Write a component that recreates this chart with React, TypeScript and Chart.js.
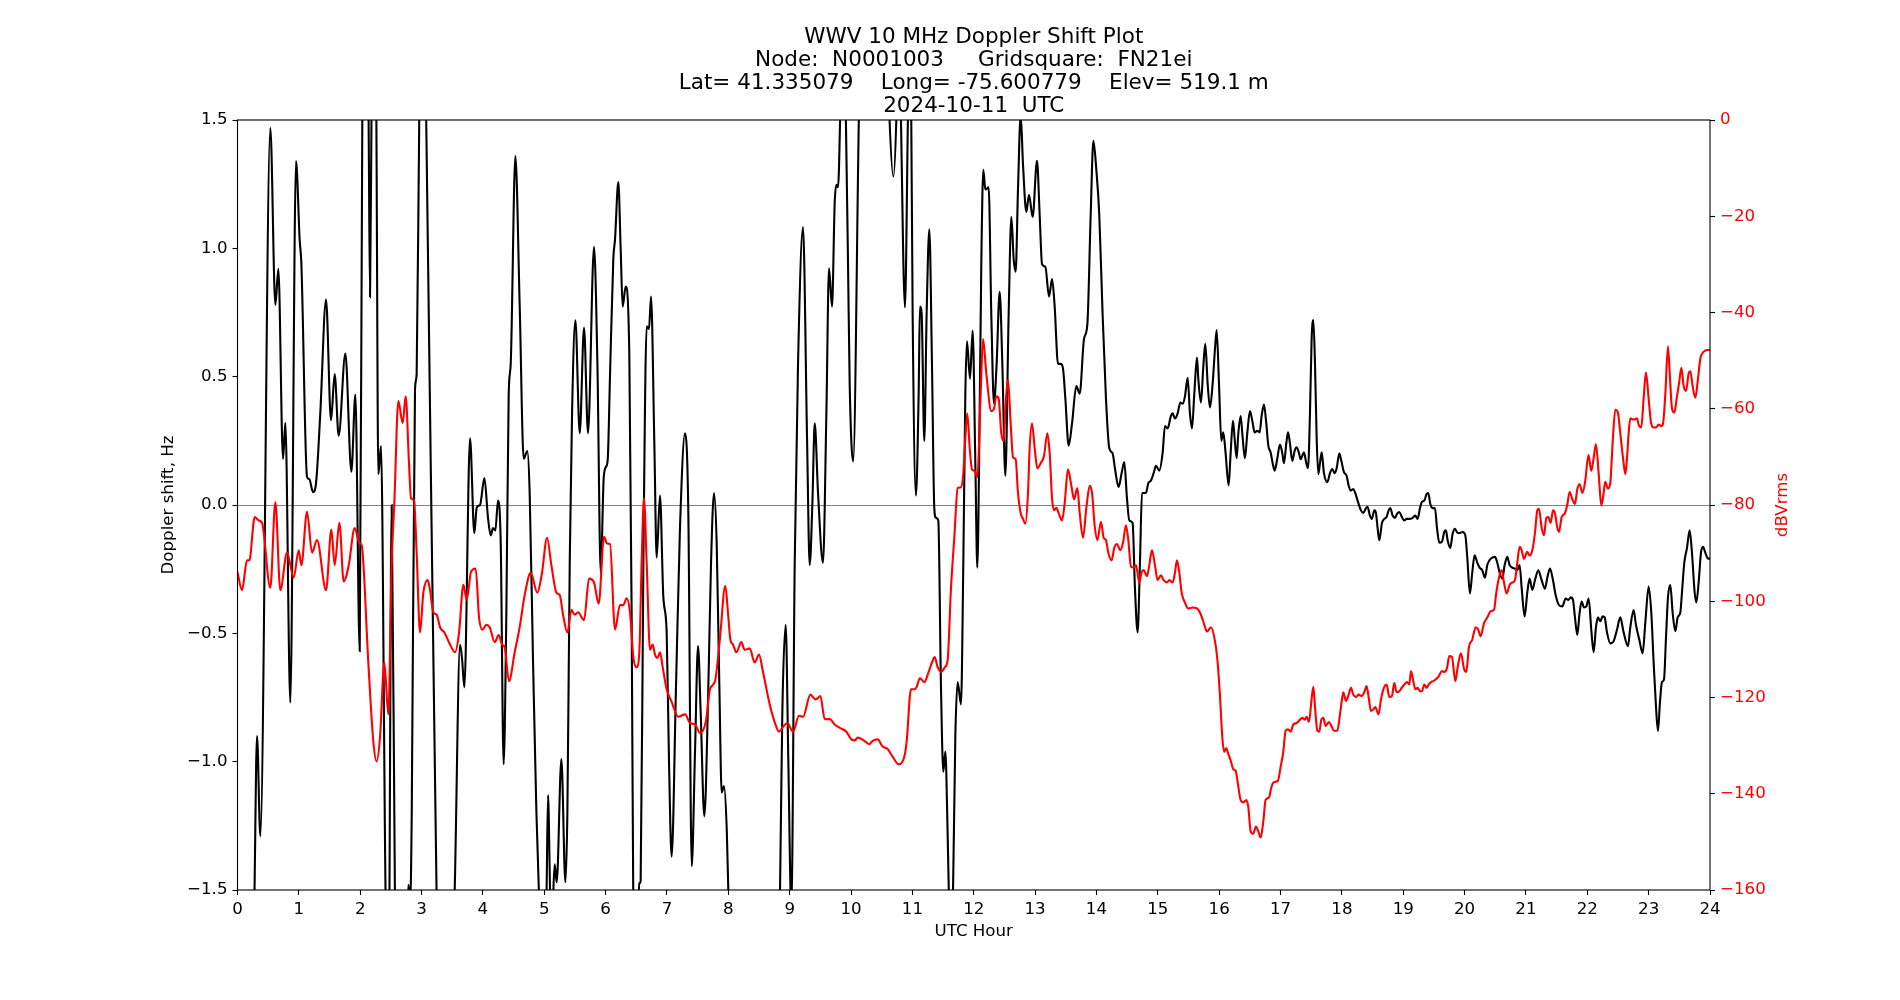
import React, { useEffect, useRef } from "react";
import { Chart, registerables } from "chart.js";

Chart.register(...registerables);

const titleLines = [
  "WWV 10 MHz Doppler Shift Plot",
  "Node:  N0001003     Gridsquare:  FN21ei",
  "Lat= 41.335079    Long= -75.600779    Elev= 519.1 m",
  "2024-10-11  UTC",
];
const xAxisTitle = "UTC Hour";
const leftAxisTitle = "Doppler shift, Hz";
const rightAxisTitle = "dBVrms";

const hourTicks = [0, 1, 2, 3, 4, 5, 6, 7, 8, 9, 10, 11, 12, 13, 14, 15, 16, 17, 18, 19, 20, 21, 22, 23, 24];
const shiftTicks = [-1.5, -1.0, -0.5, 0.0, 0.5, 1.0, 1.5];
const levelTicks = [-160, -140, -120, -100, -80, -60, -40, -20, 0];

// [UTC hour, Doppler shift in Hz] (values beyond +/-1.5 run off the plot)
const dopplerShift: [number, number][] = [
  [0.0, -2.2], [0.15, -2.2], [0.27, -1.6], [0.318, -0.9], [0.372, -1.29], [0.535, 1.47], [0.617, 0.78], [0.666, 0.92],
  [0.742, 0.18], [0.78, 0.32], [0.861, -0.77], [0.954, 1.34], [1.014, 1.03], [1.041, 0.94], [1.133, 0.11], [1.171, 0.1],
  [1.231, 0.05], [1.28, 0.085], [1.35, 0.36], [1.443, 0.8], [1.524, 0.33], [1.584, 0.51], [1.649, 0.27], [1.758, 0.59],
  [1.856, 0.13], [1.921, 0.43], [1.992, -0.57], [2.035, 1.55], [2.085, 2.2], [2.135, 1.55], [2.16, 0.81], [2.185, 1.55],
  [2.225, 2.2], [2.262, 1.55], [2.295, 0.12], [2.339, 0.23], [2.415, -1.55], [2.46, -2.0], [2.513, 0.0], [2.567, -1.55],
  [2.65, -2.2], [2.76, -1.7], [2.785, -1.48], [2.815, -1.55], [2.84, -1.2], [2.893, 0.45], [2.92, 0.51], [2.964, 1.55],
  [3.02, 2.2], [3.073, 1.55], [3.247, -1.55], [3.3, -2.0], [3.45, -2.0], [3.535, -1.55], [3.627, -0.545], [3.66, -0.6],
  [3.698, -0.71], [3.79, 0.26], [3.86, -0.11], [3.899, -0.01], [3.953, 0.0], [4.024, 0.105], [4.083, -0.05], [4.127, -0.118],
  [4.165, -0.09], [4.203, -0.099], [4.246, 0.017], [4.29, -0.147], [4.338, -1.01], [4.382, -0.42], [4.42, 0.43], [4.453, 0.55],
  [4.529, 1.36], [4.599, 0.78], [4.665, 0.18], [4.724, 0.21], [4.762, 0.047], [4.817, -0.61], [4.871, -1.19], [4.925, -1.6],
  [4.99, -1.9], [5.035, -1.55], [5.061, -1.13], [5.1, -1.55], [5.127, -1.6], [5.17, -1.4], [5.203, -1.47], [5.279, -0.99],
  [5.344, -1.47], [5.377, -1.19], [5.415, -0.225], [5.453, 0.36], [5.507, 0.72], [5.578, 0.28], [5.648, 0.69], [5.713, 0.28],
  [5.811, 1.006], [5.866, 0.55], [5.92, -0.264], [5.97, 0.11], [6.01, 0.15], [6.035, 0.18], [6.071, 0.5], [6.125, 0.957],
  [6.153, 1.035], [6.207, 1.258], [6.245, 1.0], [6.278, 0.773], [6.326, 0.851], [6.386, 0.589], [6.424, -0.419], [6.451, -1.55],
  [6.5, -1.9], [6.549, -1.475], [6.571, -1.465], [6.615, -0.225], [6.669, 0.696], [6.707, 0.686], [6.74, 0.812], [6.794, 0.24],
  [6.832, -0.205], [6.886, 0.037], [6.941, -0.36], [6.995, -0.496], [7.033, -1.0], [7.076, -1.37], [7.147, -0.709], [7.212, -0.089],
  [7.294, 0.279], [7.348, -0.031], [7.403, -1.407], [7.457, -0.961], [7.506, -0.55], [7.549, -0.806], [7.609, -1.213], [7.674, -0.709],
  [7.718, -0.225], [7.767, 0.047], [7.81, -0.147], [7.854, -0.709], [7.892, -1.12], [7.93, -1.095], [7.975, -1.27], [8.01, -1.6],
  [8.1, -2.2], [8.45, -2.2], [8.8, -2.0], [8.84, -1.55], [8.88, -0.81], [8.935, -0.467], [8.978, -1.0], [9.027, -1.58],
  [9.082, -0.225], [9.136, 0.55], [9.217, 1.083], [9.283, 0.26], [9.326, -0.234], [9.37, 0.008], [9.408, 0.318], [9.462, 0.047],
  [9.543, -0.225], [9.598, 0.357], [9.641, 0.922], [9.69, 0.773], [9.734, 1.18], [9.761, 1.248], [9.788, 1.238], [9.826, 1.55],
  [9.87, 2.1], [9.913, 1.55], [9.951, 0.938], [9.978, 0.47], [10.035, 0.17], [10.134, 1.6], [10.2, 2.2], [10.55, 2.2],
  [10.62, 1.55], [10.69, 1.28], [10.743, 1.55], [10.775, 2.0], [10.81, 1.55], [10.879, 0.77], [10.93, 1.55], [10.955, 1.8],
  [10.98, 1.55], [11.004, 0.744], [11.058, 0.037], [11.102, 0.434], [11.123, 0.773], [11.151, 0.744], [11.194, 0.25], [11.232, 0.744],
  [11.276, 1.074], [11.319, 0.55], [11.357, -0.012], [11.384, -0.05], [11.422, -0.06], [11.466, -0.709], [11.504, -1.039], [11.537, -0.961],
  [11.575, -1.287], [11.602, -1.6], [11.629, -1.75], [11.656, -1.6], [11.7, -0.9], [11.738, -0.69], [11.792, -0.777], [11.83, -0.225],
  [11.863, 0.434], [11.89, 0.638], [11.939, 0.492], [11.982, 0.68], [12.026, 0.163], [12.058, -0.244], [12.096, 0.357], [12.123, 0.938],
  [12.156, 1.306], [12.189, 1.229], [12.243, 1.238], [12.286, 0.744], [12.33, 0.395], [12.373, 0.55], [12.422, 0.831], [12.466, 0.55],
  [12.515, 0.114], [12.569, 0.744], [12.613, 1.122], [12.651, 0.957], [12.683, 0.909], [12.721, 1.229], [12.765, 1.52], [12.803, 1.326],
  [12.857, 1.141], [12.9, 1.209], [12.96, 1.122], [13.031, 1.341], [13.074, 1.132], [13.113, 0.938], [13.167, 0.928], [13.227, 0.812],
  [13.276, 0.88], [13.319, 0.773], [13.373, 0.55], [13.417, 0.55], [13.455, 0.531], [13.493, 0.415], [13.547, 0.231], [13.602, 0.318],
  [13.672, 0.463], [13.727, 0.434], [13.797, 0.647], [13.852, 0.705], [13.906, 1.132], [13.95, 1.419], [13.998, 1.306], [14.046, 1.13],
  [14.1, 0.744], [14.155, 0.415], [14.209, 0.221], [14.263, 0.202], [14.301, 0.143], [14.361, 0.07], [14.41, 0.124], [14.453, 0.167],
  [14.497, 0.027], [14.535, -0.06], [14.589, -0.07], [14.627, -0.322], [14.671, -0.496], [14.709, -0.225], [14.742, 0.047], [14.78, 0.047],
  [14.807, 0.047], [14.845, 0.085], [14.888, 0.095], [14.932, 0.124], [14.97, 0.153], [15.024, 0.134], [15.078, 0.202], [15.117, 0.308],
  [15.16, 0.298], [15.214, 0.347], [15.242, 0.357], [15.28, 0.337], [15.323, 0.357], [15.367, 0.399], [15.405, 0.395], [15.443, 0.424],
  [15.486, 0.496], [15.524, 0.357], [15.557, 0.298], [15.595, 0.434], [15.638, 0.574], [15.66, 0.492], [15.703, 0.399], [15.742, 0.541],
  [15.774, 0.628], [15.812, 0.473], [15.85, 0.38], [15.894, 0.473], [15.932, 0.609], [15.959, 0.682], [15.997, 0.473], [16.035, 0.25],
  [16.067, 0.283], [16.105, 0.202], [16.154, 0.076], [16.187, 0.202], [16.225, 0.328], [16.252, 0.26], [16.285, 0.182], [16.312, 0.279],
  [16.35, 0.347], [16.377, 0.279], [16.42, 0.182], [16.458, 0.279], [16.502, 0.366], [16.54, 0.328], [16.578, 0.283], [16.622, 0.289],
  [16.66, 0.283], [16.692, 0.347], [16.73, 0.391], [16.768, 0.318], [16.801, 0.231], [16.839, 0.205], [16.872, 0.163], [16.904, 0.134],
  [16.948, 0.182], [16.991, 0.236], [17.029, 0.202], [17.056, 0.163], [17.094, 0.24], [17.122, 0.283], [17.154, 0.24], [17.192, 0.172],
  [17.23, 0.211], [17.263, 0.225], [17.301, 0.202], [17.328, 0.178], [17.355, 0.192], [17.382, 0.205], [17.42, 0.163], [17.448, 0.143],
  [17.48, 0.357], [17.507, 0.647], [17.535, 0.721], [17.562, 0.55], [17.589, 0.26], [17.616, 0.12], [17.643, 0.163], [17.671, 0.205],
  [17.708, 0.124], [17.763, 0.089], [17.806, 0.124], [17.844, 0.14], [17.882, 0.124], [17.915, 0.143], [17.958, 0.2], [17.991, 0.172],
  [18.034, 0.128], [18.077, 0.114], [18.11, 0.076], [18.148, 0.056], [18.186, 0.062], [18.218, 0.047], [18.256, 0.017], [18.311, -0.021],
  [18.349, -0.031], [18.392, -0.012], [18.419, -0.008], [18.457, -0.041], [18.49, -0.054], [18.528, -0.021], [18.555, -0.031], [18.582, -0.089],
  [18.61, -0.138], [18.653, -0.07], [18.691, -0.054], [18.729, -0.047], [18.762, -0.021], [18.789, -0.012], [18.827, -0.041], [18.865, -0.05],
  [18.898, -0.035], [18.936, -0.027], [18.979, -0.047], [19.017, -0.06], [19.055, -0.054], [19.099, -0.054], [19.153, -0.05], [19.196, -0.041],
  [19.235, -0.054], [19.273, -0.012], [19.305, 0.012], [19.343, 0.017], [19.381, 0.043], [19.408, 0.047], [19.441, 0.004], [19.479, -0.012],
  [19.517, -0.012], [19.55, -0.089], [19.588, -0.147], [19.631, -0.143], [19.669, -0.105], [19.696, -0.099], [19.724, -0.138], [19.767, -0.167],
  [19.805, -0.112], [19.843, -0.093], [19.887, -0.109], [19.925, -0.109], [19.968, -0.105], [20.012, -0.118], [20.044, -0.205], [20.087, -0.345],
  [20.125, -0.264], [20.163, -0.196], [20.207, -0.225], [20.245, -0.244], [20.288, -0.254], [20.332, -0.283], [20.37, -0.234], [20.408, -0.215],
  [20.451, -0.205], [20.495, -0.202], [20.533, -0.225], [20.571, -0.264], [20.615, -0.287], [20.653, -0.234], [20.696, -0.202], [20.734, -0.234],
  [20.778, -0.244], [20.821, -0.248], [20.859, -0.254], [20.897, -0.234], [20.93, -0.322], [20.979, -0.434], [21.022, -0.341], [21.06, -0.287],
  [21.104, -0.331], [21.147, -0.293], [21.201, -0.254], [21.256, -0.293], [21.31, -0.326], [21.348, -0.283], [21.392, -0.248], [21.441, -0.293],
  [21.484, -0.351], [21.538, -0.39], [21.593, -0.395], [21.647, -0.364], [21.691, -0.37], [21.729, -0.36], [21.767, -0.37], [21.799, -0.438],
  [21.837, -0.506], [21.875, -0.419], [21.908, -0.376], [21.946, -0.399], [21.984, -0.395], [22.022, -0.364], [22.065, -0.486], [22.103, -0.574],
  [22.141, -0.477], [22.174, -0.438], [22.212, -0.453], [22.25, -0.434], [22.283, -0.438], [22.321, -0.496], [22.375, -0.539], [22.429, -0.531],
  [22.484, -0.486], [22.538, -0.438], [22.592, -0.496], [22.663, -0.55], [22.701, -0.477], [22.755, -0.409], [22.793, -0.467], [22.848, -0.525],
  [22.902, -0.578], [22.946, -0.457], [23.0, -0.318], [23.043, -0.419], [23.081, -0.612], [23.12, -0.787], [23.152, -0.88], [23.185, -0.767],
  [23.217, -0.69], [23.25, -0.68], [23.283, -0.516], [23.315, -0.36], [23.353, -0.312], [23.391, -0.419], [23.435, -0.492], [23.473, -0.438],
  [23.516, -0.419], [23.543, -0.341], [23.581, -0.225], [23.625, -0.167], [23.668, -0.099], [23.706, -0.186], [23.75, -0.341], [23.777, -0.38],
  [23.815, -0.302], [23.853, -0.186], [23.886, -0.163], [23.924, -0.186], [23.967, -0.209], [24.0, -0.209],
];

// [UTC hour, received level in dBVrms]
const signalLevel: [number, number][] = [
  [0.0, -94], [0.073, -97.7], [0.155, -91.5], [0.193, -91.5], [0.28, -82.5], [0.345, -83.2], [0.4, -83.7], [0.535, -97.2],
  [0.617, -79.4], [0.698, -97.7], [0.807, -89.9], [0.916, -95.1], [0.997, -89.4], [1.041, -92.5], [1.133, -81.4], [1.215, -89.9],
  [1.296, -87.3], [1.443, -97.7], [1.53, -85.1], [1.584, -92.5], [1.66, -83.7], [1.731, -95.9], [1.813, -92.5], [1.91, -84.8],
  [1.986, -87.9], [2.024, -88.4], [2.132, -112.7], [2.214, -129.2], [2.268, -133.3], [2.323, -128.2], [2.393, -112.7], [2.458, -123.5],
  [2.513, -92.0], [2.556, -79.6], [2.622, -58.4], [2.692, -63.0], [2.741, -57.4], [2.795, -71.3], [2.828, -78.6], [2.877, -79.0],
  [2.92, -89.9], [2.975, -106.5], [3.029, -98.2], [3.1, -95.6], [3.138, -97.7], [3.192, -102.3], [3.247, -102.8], [3.301, -105.4],
  [3.372, -106.5], [3.464, -109.0], [3.545, -110.6], [3.611, -106.5], [3.681, -96.6], [3.736, -99.7], [3.806, -93.9], [3.882, -93.2],
  [3.937, -103.4], [3.991, -105.9], [4.056, -104.9], [4.11, -105.4], [4.192, -108.5], [4.257, -107.0], [4.311, -109.0], [4.355, -109.6],
  [4.425, -116.6], [4.518, -110.6], [4.599, -105.4], [4.681, -98.7], [4.779, -94.1], [4.887, -98.2], [4.963, -94.1], [5.045, -86.8],
  [5.116, -92.5], [5.197, -98.2], [5.252, -98.7], [5.306, -102.8], [5.377, -106.5], [5.442, -101.8], [5.496, -102.8], [5.55, -102.3],
  [5.648, -103.9], [5.73, -95.3], [5.811, -96.1], [5.887, -100.5], [5.974, -86.6], [6.023, -88.0], [6.071, -88.1], [6.153, -105.9],
  [6.234, -100.8], [6.288, -100.8], [6.343, -99.4], [6.397, -102.3], [6.451, -111.6], [6.506, -113.7], [6.549, -110.6], [6.587, -92.0],
  [6.625, -78.6], [6.669, -92.0], [6.723, -110.1], [6.767, -109.0], [6.805, -111.1], [6.843, -111.8], [6.886, -110.6], [6.93, -113.7],
  [6.995, -118.3], [7.076, -120.9], [7.185, -124.0], [7.294, -123.5], [7.375, -125.3], [7.457, -125.6], [7.538, -127.4], [7.636, -124.8],
  [7.701, -118.3], [7.783, -116.6], [7.865, -107.5], [7.95, -96.8], [7.998, -103.0], [8.033, -108.0], [8.076, -109.0], [8.13, -110.6],
  [8.212, -108.5], [8.266, -110.1], [8.348, -109.8], [8.429, -112.7], [8.5, -111.1], [8.565, -114.7], [8.674, -121.4], [8.755, -125.1],
  [8.826, -127.1], [8.891, -126.1], [8.962, -125.3], [9.054, -127.1], [9.152, -123.8], [9.217, -124.0], [9.337, -119.4], [9.424, -120.4],
  [9.5, -119.7], [9.571, -124.5], [9.652, -124.5], [9.734, -125.6], [9.815, -126.3], [9.924, -127.1], [10.005, -128.7], [10.065, -128.9],
  [10.107, -128.3], [10.216, -129.0], [10.297, -129.7], [10.352, -129.0], [10.433, -128.7], [10.515, -130.2], [10.596, -130.7], [10.678, -132.3],
  [10.776, -133.9], [10.868, -132.3], [10.906, -129.2], [10.977, -118.3], [11.031, -118.3], [11.069, -117.8], [11.123, -116.0], [11.194, -116.8],
  [11.265, -114.7], [11.319, -112.7], [11.363, -111.6], [11.412, -113.7], [11.466, -114.7], [11.531, -113.7], [11.575, -112.2], [11.629, -97.2],
  [11.683, -86.8], [11.738, -76.5], [11.792, -76.3], [11.83, -73.4], [11.863, -66.1], [11.895, -61.0], [11.936, -68.5], [11.971, -72.6],
  [12.015, -72.9], [12.058, -74.2], [12.113, -56.8], [12.151, -45.5], [12.205, -52.7], [12.286, -60.5], [12.33, -60.0], [12.368, -57.4],
  [12.406, -57.9], [12.449, -65.1], [12.487, -66.7], [12.52, -58.9], [12.558, -54.0], [12.602, -63.1], [12.64, -70.1], [12.683, -70.5],
  [12.721, -77.5], [12.765, -81.7], [12.803, -82.9], [12.841, -83.9], [12.884, -77.5], [12.911, -68.2], [12.949, -63.0], [12.993, -68.2],
  [13.036, -72.4], [13.091, -71.3], [13.145, -69.8], [13.199, -65.1], [13.238, -69.3], [13.276, -78.6], [13.308, -81.1], [13.346, -80.6],
  [13.384, -81.7], [13.439, -83.2], [13.482, -79.6], [13.536, -72.6], [13.591, -76.0], [13.634, -78.8], [13.689, -76.5], [13.727, -81.7],
  [13.781, -86.8], [13.835, -80.6], [13.89, -76.0], [13.928, -77.5], [13.971, -84.3], [14.015, -87.3], [14.073, -83.5], [14.117, -86.8],
  [14.155, -87.3], [14.193, -89.9], [14.247, -91.5], [14.29, -88.9], [14.334, -88.1], [14.388, -89.4], [14.432, -87.9], [14.481, -84.2],
  [14.519, -87.3], [14.562, -92.8], [14.606, -93.0], [14.644, -92.5], [14.698, -96.1], [14.736, -94.0], [14.769, -93.5], [14.823, -94.8],
  [14.861, -92.5], [14.905, -89.4], [14.953, -92.5], [14.997, -95.6], [15.051, -94.6], [15.095, -95.6], [15.149, -96.1], [15.187, -95.6],
  [15.242, -96.1], [15.28, -94.0], [15.312, -91.5], [15.35, -94.0], [15.388, -98.2], [15.443, -100.3], [15.497, -101.5], [15.568, -101.3],
  [15.638, -101.5], [15.703, -102.8], [15.758, -104.9], [15.801, -106.3], [15.867, -105.4], [15.921, -107.5], [15.97, -112.0], [16.01, -119.0],
  [16.05, -128.0], [16.08, -131.3], [16.116, -130.5], [16.143, -131.5], [16.187, -133.1], [16.23, -134.9], [16.268, -135.2], [16.306, -138.0],
  [16.35, -141.3], [16.393, -141.8], [16.442, -141.3], [16.475, -142.8], [16.513, -147.8], [16.556, -148.3], [16.6, -146.8], [16.638, -147.8],
  [16.676, -149.1], [16.719, -145.8], [16.757, -141.3], [16.812, -140.8], [16.85, -138.7], [16.882, -137.7], [16.92, -137.5], [16.958, -137.3],
  [17.002, -134.4], [17.045, -131.3], [17.083, -126.9], [17.122, -126.6], [17.165, -127.1], [17.208, -125.6], [17.263, -125.3], [17.317, -124.6],
  [17.355, -124.2], [17.393, -124.6], [17.426, -124.0], [17.464, -125.1], [17.502, -120.9], [17.535, -117.8], [17.562, -122.0], [17.6, -126.9],
  [17.632, -127.1], [17.665, -124.6], [17.698, -124.2], [17.736, -125.9], [17.79, -125.1], [17.828, -125.9], [17.871, -126.9], [17.926, -126.9],
  [17.969, -123.5], [18.0, -120.5], [18.023, -118.9], [18.066, -120.7], [18.11, -119.4], [18.148, -118.0], [18.186, -119.4], [18.229, -119.9],
  [18.273, -119.4], [18.327, -119.7], [18.365, -118.9], [18.403, -117.6], [18.436, -119.9], [18.474, -122.8], [18.512, -122.5], [18.544, -122.0],
  [18.599, -123.5], [18.637, -120.4], [18.691, -117.8], [18.729, -117.3], [18.773, -119.9], [18.816, -119.7], [18.854, -117.0], [18.892, -118.9],
  [18.936, -118.7], [18.974, -118.0], [19.017, -117.3], [19.061, -116.8], [19.099, -117.3], [19.126, -114.5], [19.164, -116.6], [19.196, -118.3],
  [19.235, -118.0], [19.273, -118.7], [19.305, -118.7], [19.343, -117.3], [19.381, -118.0], [19.414, -117.3], [19.452, -116.8], [19.49, -116.6],
  [19.523, -116.3], [19.577, -115.6], [19.631, -114.5], [19.669, -114.7], [19.713, -113.9], [19.751, -111.4], [19.794, -111.6], [19.849, -116.6],
  [19.887, -113.7], [19.941, -110.8], [19.99, -114.0], [20.028, -114.7], [20.071, -109.5], [20.125, -108.0], [20.18, -105.4], [20.223, -105.9],
  [20.261, -107.3], [20.316, -104.6], [20.37, -103.4], [20.424, -102.1], [20.479, -101.8], [20.517, -98.2], [20.56, -95.1], [20.604, -93.5],
  [20.642, -96.1], [20.685, -98.4], [20.734, -96.6], [20.778, -96.1], [20.821, -95.6], [20.859, -92.0], [20.897, -88.7], [20.93, -89.4],
  [20.968, -91.2], [21.022, -89.7], [21.06, -90.5], [21.104, -89.4], [21.147, -85.8], [21.185, -81.1], [21.212, -80.8], [21.256, -84.7],
  [21.294, -86.3], [21.332, -82.7], [21.365, -82.5], [21.403, -83.7], [21.441, -81.1], [21.473, -81.7], [21.511, -84.7], [21.538, -85.6],
  [21.582, -82.5], [21.636, -81.7], [21.674, -79.9], [21.712, -77.3], [21.756, -78.8], [21.799, -79.8], [21.837, -76.7], [21.875, -75.7],
  [21.919, -77.5], [21.962, -75.4], [22.02, -69.6], [22.065, -72.9], [22.103, -70.3], [22.141, -67.4], [22.185, -73.4], [22.228, -80.1],
  [22.266, -77.5], [22.293, -75.2], [22.337, -76.6], [22.375, -75.4], [22.413, -67.1], [22.456, -60.2], [22.5, -60.8], [22.538, -65.1],
  [22.592, -71.3], [22.62, -73.6], [22.647, -70.3], [22.674, -65.1], [22.701, -62.0], [22.739, -62.2], [22.772, -62.2], [22.81, -62.0],
  [22.837, -63.3], [22.88, -63.9], [22.918, -57.9], [22.956, -52.5], [23.0, -57.9], [23.038, -62.8], [23.081, -63.9], [23.12, -63.9],
  [23.163, -63.3], [23.201, -63.6], [23.234, -63.1], [23.272, -56.9], [23.315, -47.0], [23.348, -53.7], [23.38, -59.9], [23.418, -60.8],
  [23.462, -57.4], [23.5, -54.3], [23.533, -51.5], [23.571, -55.3], [23.609, -56.3], [23.652, -52.7], [23.68, -52.2], [23.717, -55.3],
  [23.761, -57.7], [23.804, -53.8], [23.842, -49.6], [23.88, -48.4], [23.924, -47.9], [23.967, -47.8], [24.0, -47.8],
];

const FONT = "'DejaVu Sans', 'Liberation Sans', sans-serif";

const minusFmt = (v: number, digits: number) => {
  const s = Math.abs(v).toFixed(digits);
  return v < -1e-9 ? "\u2212" + s : s;
};

const decorPlugin = {
  id: "decor",
  afterDatasetsDraw(chart: any) {
    const { ctx, chartArea: a } = chart;
    ctx.save();
    ctx.strokeStyle = "#000";
    ctx.lineWidth = 1.1;
    ctx.strokeRect(a.left, a.top, a.right - a.left, a.bottom - a.top);
    ctx.restore();
  },
  afterDraw(chart: any) {
    const { ctx, chartArea: a } = chart;
    const cx = (a.left + a.right) / 2;
    const cy = (a.top + a.bottom) / 2;
    ctx.save();
    ctx.fillStyle = "#000";
    ctx.textAlign = "center";
    ctx.textBaseline = "middle";
    ctx.font = `21.5px ${FONT}`;
    titleLines.forEach((line, i) => {
      ctx.fillText(line, cx, a.top - 83 + i * 23);
    });
    ctx.font = `16.67px ${FONT}`;
    ctx.fillText(xAxisTitle, cx, a.bottom + 42);
    ctx.save();
    ctx.translate(a.left - 68.5, cy);
    ctx.rotate(-Math.PI / 2);
    ctx.fillText(leftAxisTitle, 0, 0);
    ctx.restore();
    ctx.save();
    ctx.translate(a.right + 72.5, cy);
    ctx.rotate(-Math.PI / 2);
    ctx.fillStyle = "#ff0000";
    ctx.fillText(rightAxisTitle, 0, 0);
    ctx.restore();
    ctx.restore();
  },
};

export default function App() {
  const canvasRef = useRef<HTMLCanvasElement | null>(null);

  useEffect(() => {
    if (!canvasRef.current) return;
    Chart.defaults.font.family = FONT;
    Chart.defaults.font.size = 16.67;
    Chart.defaults.color = "#000";

    const chart = new Chart(canvasRef.current, {
      type: "line",
      data: {
        datasets: [
          {
            label: "dBVrms",
            data: signalLevel.map(([x, y]) => ({ x, y })),
            xAxisID: "x",
            yAxisID: "y1",
            borderColor: "#ff0000",
            borderWidth: 2.1,
            pointRadius: 0,
            cubicInterpolationMode: "monotone",
            clip: 0,
          },
          {
            label: "Doppler shift",
            data: dopplerShift.map(([x, y]) => ({ x, y })),
            xAxisID: "x",
            yAxisID: "y",
            borderColor: "#000000",
            borderWidth: 2.1,
            pointRadius: 0,
            cubicInterpolationMode: "monotone",
            clip: 0,
          },
        ],
      },
      options: {
        responsive: false,
        animation: false,
        devicePixelRatio: 1,
        layout: { padding: { top: 120, left: 0, right: 0, bottom: 0 } },
        plugins: {
          legend: { display: false },
          tooltip: { enabled: false },
          title: { display: false },
        },
        scales: {
          x: {
            type: "linear",
            position: "bottom",
            min: 0,
            max: 24,
            afterFit: (s: any) => {
              s.height = 110;
            },
            afterBuildTicks: (s: any) => {
              s.ticks = hourTicks.map((value) => ({ value }));
            },
            ticks: {
              autoSkip: false,
              maxRotation: 0,
              padding: 5,
              color: "#000",
              callback: (v: any) => String(v),
            },
            grid: { drawOnChartArea: false, tickLength: 5, tickColor: "#000", tickWidth: 1.1 },
            border: { display: false },
          },
          y: {
            type: "linear",
            position: "left",
            min: -1.5,
            max: 1.5,
            afterFit: (s: any) => {
              s.width = 237.5;
            },
            afterBuildTicks: (s: any) => {
              s.ticks = shiftTicks.map((value) => ({ value }));
            },
            ticks: {
              padding: 5,
              color: "#000",
              callback: (v: any) => minusFmt(Number(v), 1),
            },
            grid: {
              color: (c: any) => (c.tick && Math.abs(c.tick.value) < 1e-9 ? "#808080" : "rgba(0,0,0,0)"),
              lineWidth: 1,
              tickLength: 5,
              tickColor: "#000",
              tickWidth: 1.1,
            },
            border: { display: false },
          },
          y1: {
            type: "linear",
            position: "right",
            min: -160,
            max: 0,
            afterFit: (s: any) => {
              s.width = 190;
            },
            afterBuildTicks: (s: any) => {
              s.ticks = levelTicks.map((value) => ({ value }));
            },
            ticks: {
              padding: 5,
              color: "#ff0000",
              callback: (v: any) => minusFmt(Number(v), 0),
            },
            grid: { drawOnChartArea: false, tickLength: 5, tickColor: "#000", tickWidth: 1.1 },
            border: { display: false },
          },
        },
      } as any,
      plugins: [decorPlugin as any],
    });

    return () => {
      chart.destroy();
    };
  }, []);

  return (
    <div style={{ position: "absolute", left: 0, top: 0, width: 1900, height: 1000, background: "#fff" }}>
      <canvas ref={canvasRef} width={1900} height={1000} style={{ display: "block" }} />
    </div>
  );
}
